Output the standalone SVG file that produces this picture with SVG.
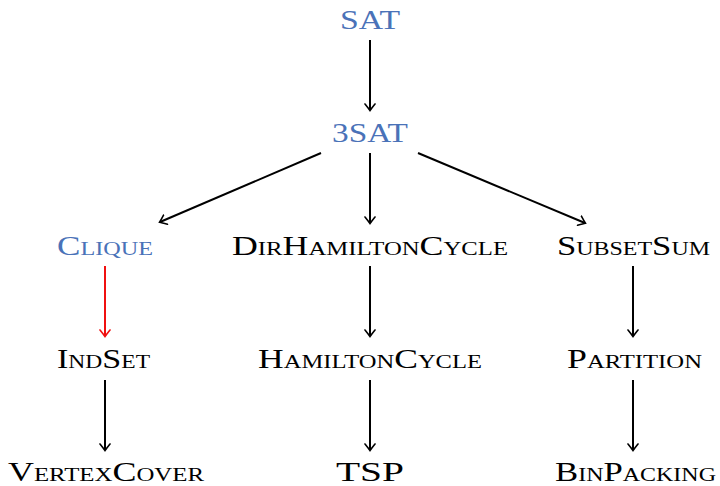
<svg xmlns="http://www.w3.org/2000/svg" width="720" height="486" viewBox="0 0 720 486">
<style>
text{font-family:"Liberation Serif","DejaVu Serif",serif;font-size:27.5px;text-anchor:middle;font-variant:small-caps;fill:#000}
.b{fill:#4a72b8}
.e{stroke:#000;stroke-width:2;fill:none;marker-end:url(#a)}
.r{stroke:#f01010;marker-end:url(#ar)}
</style>
<defs>
<marker id="a" viewBox="-7 -6 9 12" markerWidth="9" markerHeight="12" refX="0" refY="0" orient="auto" markerUnits="userSpaceOnUse">
<path d="M-6,-5 Q-1.2,-1.2 0.5,0 Q-1.2,1.2 -6,5" fill="none" stroke="#000" stroke-width="1.6" stroke-linecap="round"/>
</marker>
<marker id="ar" viewBox="-7 -6 9 12" markerWidth="9" markerHeight="12" refX="0" refY="0" orient="auto" markerUnits="userSpaceOnUse">
<path d="M-6,-5 Q-1.2,-1.2 0.5,0 Q-1.2,1.2 -6,5" fill="none" stroke="#f01010" stroke-width="1.6" stroke-linecap="round"/>
</marker>
</defs>
<g id="edges">
<line class="e" x1="370" y1="40" x2="370" y2="110"/>
<line class="e" x1="321" y1="153" x2="160" y2="222"/>
<line class="e" x1="370" y1="153" x2="370" y2="223"/>
<line class="e" x1="418" y1="153" x2="585" y2="223"/>
<line class="e r" x1="105" y1="266" x2="105" y2="336"/>
<line class="e" x1="370" y1="266" x2="370" y2="336"/>
<line class="e" x1="633" y1="266" x2="633" y2="336"/>
<line class="e" x1="105" y1="380" x2="105" y2="450"/>
<line class="e" x1="370" y1="380" x2="370" y2="450"/>
<line class="e" x1="633" y1="380" x2="633" y2="450"/>
</g>
<g id="sat"><text class="b" x="370" y="29" textLength="60" lengthAdjust="spacingAndGlyphs">SAT</text></g>
<g id="3sat"><text class="b" x="370" y="142" textLength="76" lengthAdjust="spacingAndGlyphs">3SAT</text></g>
<g id="clique"><text class="b" x="105" y="255" textLength="96" lengthAdjust="spacingAndGlyphs">Clique</text></g>
<g id="dirham"><text x="370" y="255" textLength="276" lengthAdjust="spacingAndGlyphs">DirHamiltonCycle</text></g>
<g id="subsetsum"><text x="633.5" y="255" textLength="153" lengthAdjust="spacingAndGlyphs">SubsetSum</text></g>
<g id="indset"><text x="103.5" y="368" textLength="93" lengthAdjust="spacingAndGlyphs">IndSet</text></g>
<g id="hamcycle"><text x="370" y="368" textLength="224" lengthAdjust="spacingAndGlyphs">HamiltonCycle</text></g>
<g id="partition"><text x="634.5" y="368" textLength="135" lengthAdjust="spacingAndGlyphs">Partition</text></g>
<g id="vertexcover"><text x="106" y="481" textLength="196" lengthAdjust="spacingAndGlyphs">VertexCover</text></g>
<g id="tsp"><text x="370" y="481" textLength="68" lengthAdjust="spacingAndGlyphs">TSP</text></g>
<g id="binpacking"><text x="635.5" y="481" textLength="161" lengthAdjust="spacingAndGlyphs">BinPacking</text></g>
</svg>
